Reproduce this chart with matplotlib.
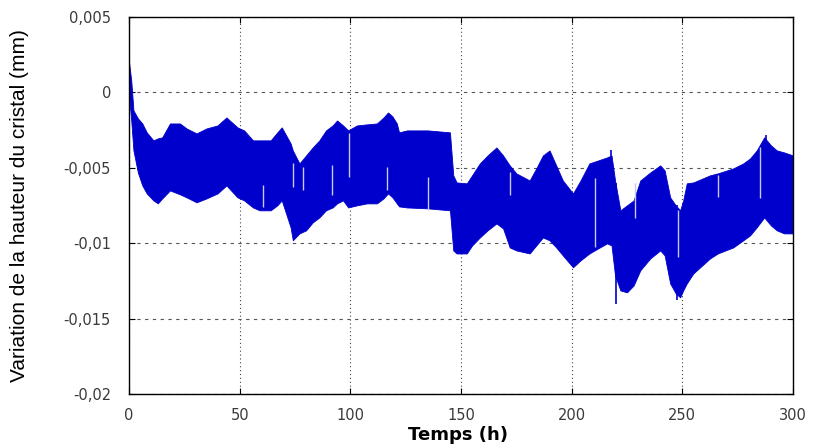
import numpy as np
import matplotlib
matplotlib.use("Agg")
import matplotlib.pyplot as plt
from matplotlib.ticker import FixedLocator, FixedFormatter

t = [0, 1, 2, 4, 6, 8, 11, 13, 15, 18.5, 23, 26, 30.5, 35, 40, 44, 49, 52, 56, 59,
     64, 67, 69, 73, 74, 77, 80, 83, 86, 89, 92, 94, 96.7, 99, 103, 107.5, 112, 115,
     117, 119, 121, 122, 125.6, 135, 145, 146.5, 148, 152.6, 155, 158.5, 162, 166,
     169, 172, 175, 181, 184, 187, 190, 193, 196, 200.6, 204, 208, 212, 216, 218,
     219.6, 222, 225, 228, 231, 235.5, 240, 242, 244.5, 247, 249, 250.4, 252, 255,
     262.5, 266, 273, 277.5, 280.6, 283.6, 287, 290, 292.7, 296, 300]

upper = [1.99, 0.80, -1.19, -1.72, -2.06, -2.65, -3.18, -3.05, -2.98, -2.06, -2.06,
         -2.39, -2.72, -2.39, -2.19, -1.66, -2.32, -2.52, -3.18, -3.18, -3.18, -2.65,
         -2.32, -3.38, -3.85, -4.71, -4.18, -3.65, -3.18, -2.52, -2.19, -1.86, -2.19,
         -2.52, -2.19, -2.12, -2.06, -1.66, -1.33, -1.59, -2.06, -2.65, -2.52, -2.52,
         -2.65, -5.50, -5.97, -6.03, -5.50, -4.71, -4.18, -3.65, -4.18, -4.84, -5.37,
         -5.84, -5.04, -4.18, -3.85, -4.84, -5.84, -6.70, -5.84, -4.71, -4.51, -4.31,
         -4.18, -5.84, -7.82, -7.49, -7.16, -5.84, -5.31, -4.84, -5.17, -6.96, -7.49,
         -7.82, -7.16, -6.03, -5.97, -5.50, -5.37, -5.04, -4.71, -4.38, -3.85, -2.98,
         -3.51, -3.85, -3.98, -4.18]

lower = [-0.20, -1.86, -3.85, -5.31, -6.17, -6.70, -7.16, -7.36, -7.03, -6.50, -6.76,
         -6.96, -7.29, -7.03, -6.70, -6.17, -6.96, -7.16, -7.63, -7.82, -7.82, -7.49,
         -7.16, -8.95, -9.81, -9.35, -9.15, -8.62, -8.29, -7.82, -7.63, -7.36, -7.16,
         -7.63, -7.49, -7.36, -7.36, -7.03, -6.70, -6.96, -7.36, -7.56, -7.63, -7.69,
         -7.82, -10.48, -10.68, -10.68, -10.15, -9.62, -9.15, -8.69, -9.02, -10.28,
         -10.48, -10.68, -10.15, -9.62, -9.81, -10.28, -10.81, -11.60, -11.14, -10.68,
         -10.34, -10.01, -10.15, -12.14, -13.13, -13.26, -12.80, -11.80, -11.01, -10.48,
         -10.81, -12.67, -13.33, -13.59, -13.13, -12.67, -12.00, -11.01, -10.68, -10.28,
         -9.81, -9.48, -8.95, -8.29, -8.82, -9.15, -9.35, -9.35]

# isolated spikes outside the band (t, low, high)
spike_t = [217.7, 220, 247.5, 288]
spike_lo = [-6.0, -14.0, -13.8, -8.0]
spike_hi = [-3.8, -6.0, -7.5, -2.8]

# light gaps inside the band
gap_t = [60.5, 74, 78.6, 91.5, 99.4, 116.6, 135, 172, 210.5, 228.5, 248, 266, 285]
gap_lo = [-7.63, -6.30, -6.50, -6.83, -5.64, -6.50, -7.82, -6.83, -10.28, -8.36,
          -10.94, -6.96, -7.03]
gap_hi = [-6.17, -4.71, -4.97, -4.84, -2.72, -4.97, -5.64, -5.31, -5.70, -6.03,
          -7.82, -5.50, -3.65]

yticks = [0.005, 0, -0.005, -0.01, -0.015, -0.02]
ytick_labels = ["0,005", "0", "-0,005", "-0,01", "-0,015", "-0,02"]
xticks = [0, 50, 100, 150, 200, 250, 300]

k = 1e-3
blue = "#0000cc"

fig = plt.figure(figsize=(8.14, 4.46), dpi=100)
ax = fig.add_axes([0.1585, 0.1166, 0.8157, 0.8453])

ax.fill_between(t, np.array(lower) * k, np.array(upper) * k, color=blue, lw=0.6,
                edgecolor=blue, zorder=2)
ax.vlines(spike_t, np.array(spike_lo) * k, np.array(spike_hi) * k, color=blue, lw=1.2, zorder=3)
ax.vlines(gap_t, np.array(gap_lo) * k, np.array(gap_hi) * k, color="#c8c8ee", lw=1.0, zorder=3)

ax.set_xlim(0, 300)
ax.set_ylim(-0.02, 0.005)
ax.xaxis.set_major_locator(FixedLocator(xticks))
ax.yaxis.set_major_locator(FixedLocator(yticks))
ax.yaxis.set_major_formatter(FixedFormatter(ytick_labels))
ax.tick_params(direction="in", top=True, right=True, length=4, width=0.8,
               labelsize=10.5, colors="black", labelcolor="#3a3a3a")
ax.tick_params(axis="y", pad=13)
ax.tick_params(axis="x", pad=10)
for lab in ax.get_xticklabels() + ax.get_yticklabels():
    lab.set_family("DejaVu Sans")

# vertical grid dotted, horizontal grid short dashes
ax.xaxis.grid(True, color="#444444", linestyle=(0, (1, 2.5)), linewidth=0.8)
ax.yaxis.grid(True, color="#555555", linestyle=(0, (3, 4)), linewidth=0.8)
ax.set_axisbelow(True)
for s in ax.spines.values():
    s.set_linewidth(1.0)

ax.set_xlabel("Temps (h)", fontsize=13, fontweight="bold", family="DejaVu Sans")
ax.xaxis.set_label_coords(0.495, -0.085)
ax.set_ylabel("Variation de la hauteur du cristal (mm)", fontsize=15,
              family="Liberation Sans")
ax.yaxis.set_label_coords(-0.151, 0.5)

fig.savefig("out.png", dpi=100)
